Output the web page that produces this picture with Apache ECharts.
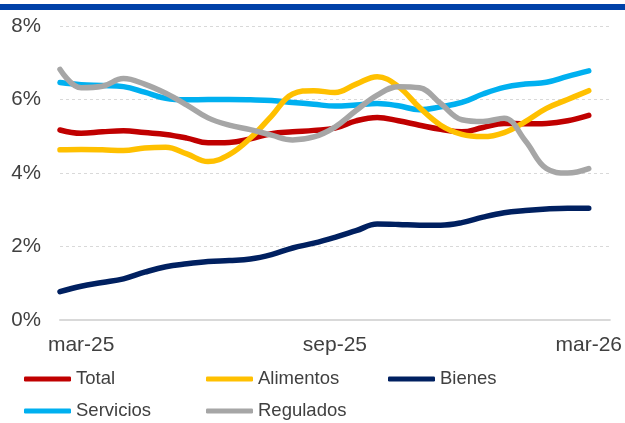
<!DOCTYPE html>
<html>
<head>
<meta charset="utf-8">
<script src="https://cdn.jsdelivr.net/npm/echarts@6/dist/echarts.min.js"></script>
<style>
  html, body { margin: 0; padding: 0; background: #fff; }
  #chart { width: 625px; height: 423px; }
</style>
</head>
<body>
<div id="chart"></div>
<script>
// months after mar-25 (half-month steps)
var months = [-0.5, 0, 0.5, 1, 1.5, 2, 2.5, 3, 3.5, 4, 4.5, 5, 5.5, 6, 6.5, 7, 7.5, 8, 8.5, 9, 9.5, 10, 10.5, 11, 11.5, 12];
var xTickPos = [0, 6, 12];
var xTickLabels = ['mar-25', 'sep-25', 'mar-26'];

var total     = [5.17, 5.08, 5.12, 5.15, 5.10, 5.05, 4.95, 4.82, 4.83, 4.93, 5.07, 5.12, 5.16, 5.22, 5.42, 5.51, 5.42, 5.30, 5.19, 5.12, 5.24, 5.35, 5.34, 5.35, 5.42, 5.57];
var alimentos = [4.63, 4.64, 4.63, 4.61, 4.68, 4.70, 4.52, 4.31, 4.50, 4.95, 5.55, 6.15, 6.24, 6.19, 6.42, 6.62, 6.35, 5.78, 5.30, 5.05, 4.99, 5.10, 5.40, 5.76, 6.00, 6.24];
var bienes    = [0.77, 0.92, 1.02, 1.12, 1.30, 1.45, 1.53, 1.59, 1.62, 1.66, 1.78, 1.96, 2.09, 2.25, 2.43, 2.61, 2.60, 2.58, 2.58, 2.65, 2.80, 2.92, 2.98, 3.02, 3.04, 3.04];
var servicios = [6.46, 6.40, 6.38, 6.35, 6.20, 6.03, 5.99, 6.00, 6.00, 5.99, 5.97, 5.92, 5.87, 5.82, 5.85, 5.89, 5.83, 5.72, 5.80, 5.92, 6.15, 6.33, 6.42, 6.47, 6.63, 6.78];
var regulados = [6.82, 6.32, 6.36, 6.57, 6.42, 6.17, 5.85, 5.50, 5.30, 5.18, 5.03, 4.90, 4.98, 5.25, 5.70, 6.12, 6.35, 6.32, 5.89, 5.45, 5.40, 5.49, 4.88, 4.12, 4.00, 4.12];

var chart = echarts.init(document.getElementById('chart'));

function pairs(vals) {
  return vals.map(function (v, i) { return [months[i], v]; });
}

function mkSeries(name, vals, color) {
  return {
    name: name,
    type: 'line',
    smooth: 0.4,
    symbol: 'none',
    color: color,
    lineStyle: { width: 5.5, color: color, cap: 'round', join: 'round' },
    data: pairs(vals)
  };
}

chart.setOption({
  animation: false,
  textStyle: { fontFamily: 'Liberation Sans, Arial, sans-serif' },
  graphic: [{
    type: 'rect',
    shape: { x: 0, y: 4, width: 625, height: 6 },
    style: { fill: '#0041A8' }
  }],
  grid: { left: 60, right: 14, top: 26, bottom: 103 },
  xAxis: {
    type: 'value',
    min: -0.5,
    max: 12.5,
    axisLine: { show: true, lineStyle: { color: '#d9d9d9', width: 2 } },
    axisTick: { show: false },
    splitLine: { show: false },
    axisLabel: {
      customValues: xTickPos,
      formatter: function (v) { return xTickLabels[xTickPos.indexOf(v)] || ''; },
      color: '#404040',
      fontSize: 21,
      margin: 15
    }
  },
  yAxis: {
    type: 'value',
    min: 0,
    max: 8,
    interval: 2,
    axisLine: { show: false },
    axisTick: { show: false },
    axisLabel: { formatter: '{value}%', color: '#404040', fontSize: 20.5, margin: 19 },
    splitLine: { lineStyle: { color: '#d9d9d9', type: [3, 3], width: 1 } }
  },
  legend: {
    left: 24,
    top: 369,
    width: 560,
    padding: 0,
    icon: 'roundRect',
    itemWidth: 47,
    itemHeight: 5,
    itemGap: 12,
    textStyle: { fontSize: 18.5, color: '#404040', width: 118, lineHeight: 20 },
    data: ['Total', 'Alimentos', 'Bienes', 'Servicios', 'Regulados']
  },
  series: [
    mkSeries('Bienes', bienes, '#002060'),
    mkSeries('Total', total, '#C00000'),
    mkSeries('Servicios', servicios, '#00B0F0'),
    mkSeries('Alimentos', alimentos, '#FFC000'),
    mkSeries('Regulados', regulados, '#A6A6A6')
  ]
});
</script>
</body>
</html>
